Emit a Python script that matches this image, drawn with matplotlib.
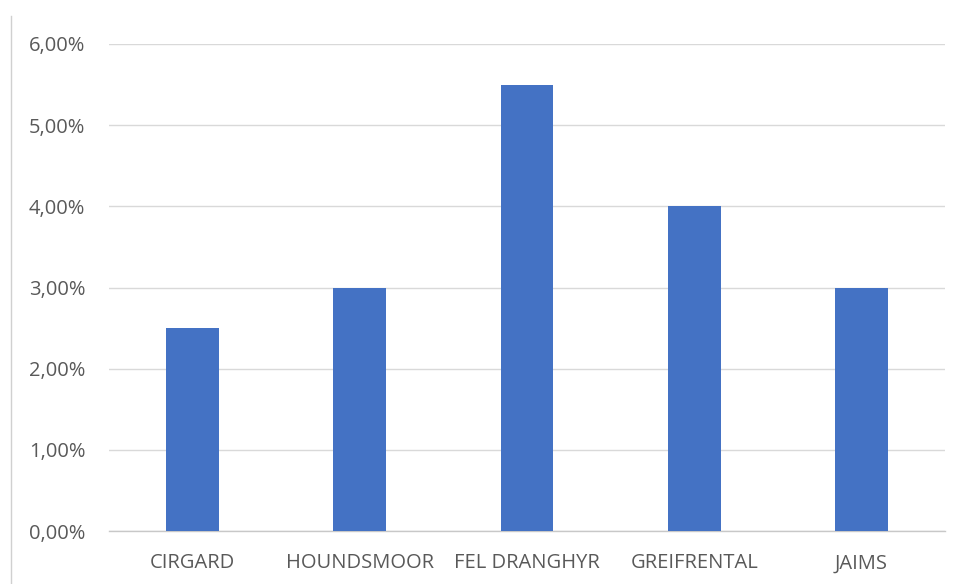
import matplotlib
matplotlib.use("Agg")
import matplotlib.pyplot as plt
from matplotlib.lines import Line2D
from matplotlib.ticker import FuncFormatter, MultipleLocator

categories = ["CIRGARD", "HOUNDSMOOR", "FEL DRANGHYR", "GREIFRENTAL", "JAIMS"]
values = [0.025, 0.030, 0.055, 0.040, 0.030]

plt.rcParams["font.family"] = ["Open Sans", "DejaVu Sans"]
text_color = "#595959"
grid_color = "#d9d9d9"

fig = plt.figure(figsize=(9.6, 5.84), dpi=100)
ax = fig.add_axes([109 / 960, 1 - 531 / 584, (945 - 109) / 960, (531 - 44) / 584])

x = range(len(categories))
ax.bar(x, values, width=0.315, color="#4472C4", zorder=3)

ax.set_xlim(-0.5, len(categories) - 0.5)
ax.set_ylim(0, 0.06)
ax.yaxis.set_major_locator(MultipleLocator(0.01))
ax.yaxis.set_major_formatter(FuncFormatter(lambda v, p: f"{v * 100:.2f}%".replace(".", ",")))
ax.set_xticks(list(x))
ax.set_xticklabels(categories)

ax.grid(axis="y", color=grid_color, linewidth=1.0, zorder=0)
for s in ["top", "right", "left"]:
    ax.spines[s].set_visible(False)
ax.spines["bottom"].set_color("#c8c8c8")
ax.spines["bottom"].set_linewidth(1.0)
ax.tick_params(axis="both", length=0, colors=text_color, labelsize=14.5)
ax.tick_params(axis="y", pad=17)
ax.tick_params(axis="x", pad=16)

# chart-area border on the left edge
fig.add_artist(Line2D([11 / 960, 11 / 960], [0, 1 - 16 / 584], transform=fig.transFigure,
                      color="#d0d0d0", linewidth=1.0))

fig.savefig("out.png", dpi=100)
